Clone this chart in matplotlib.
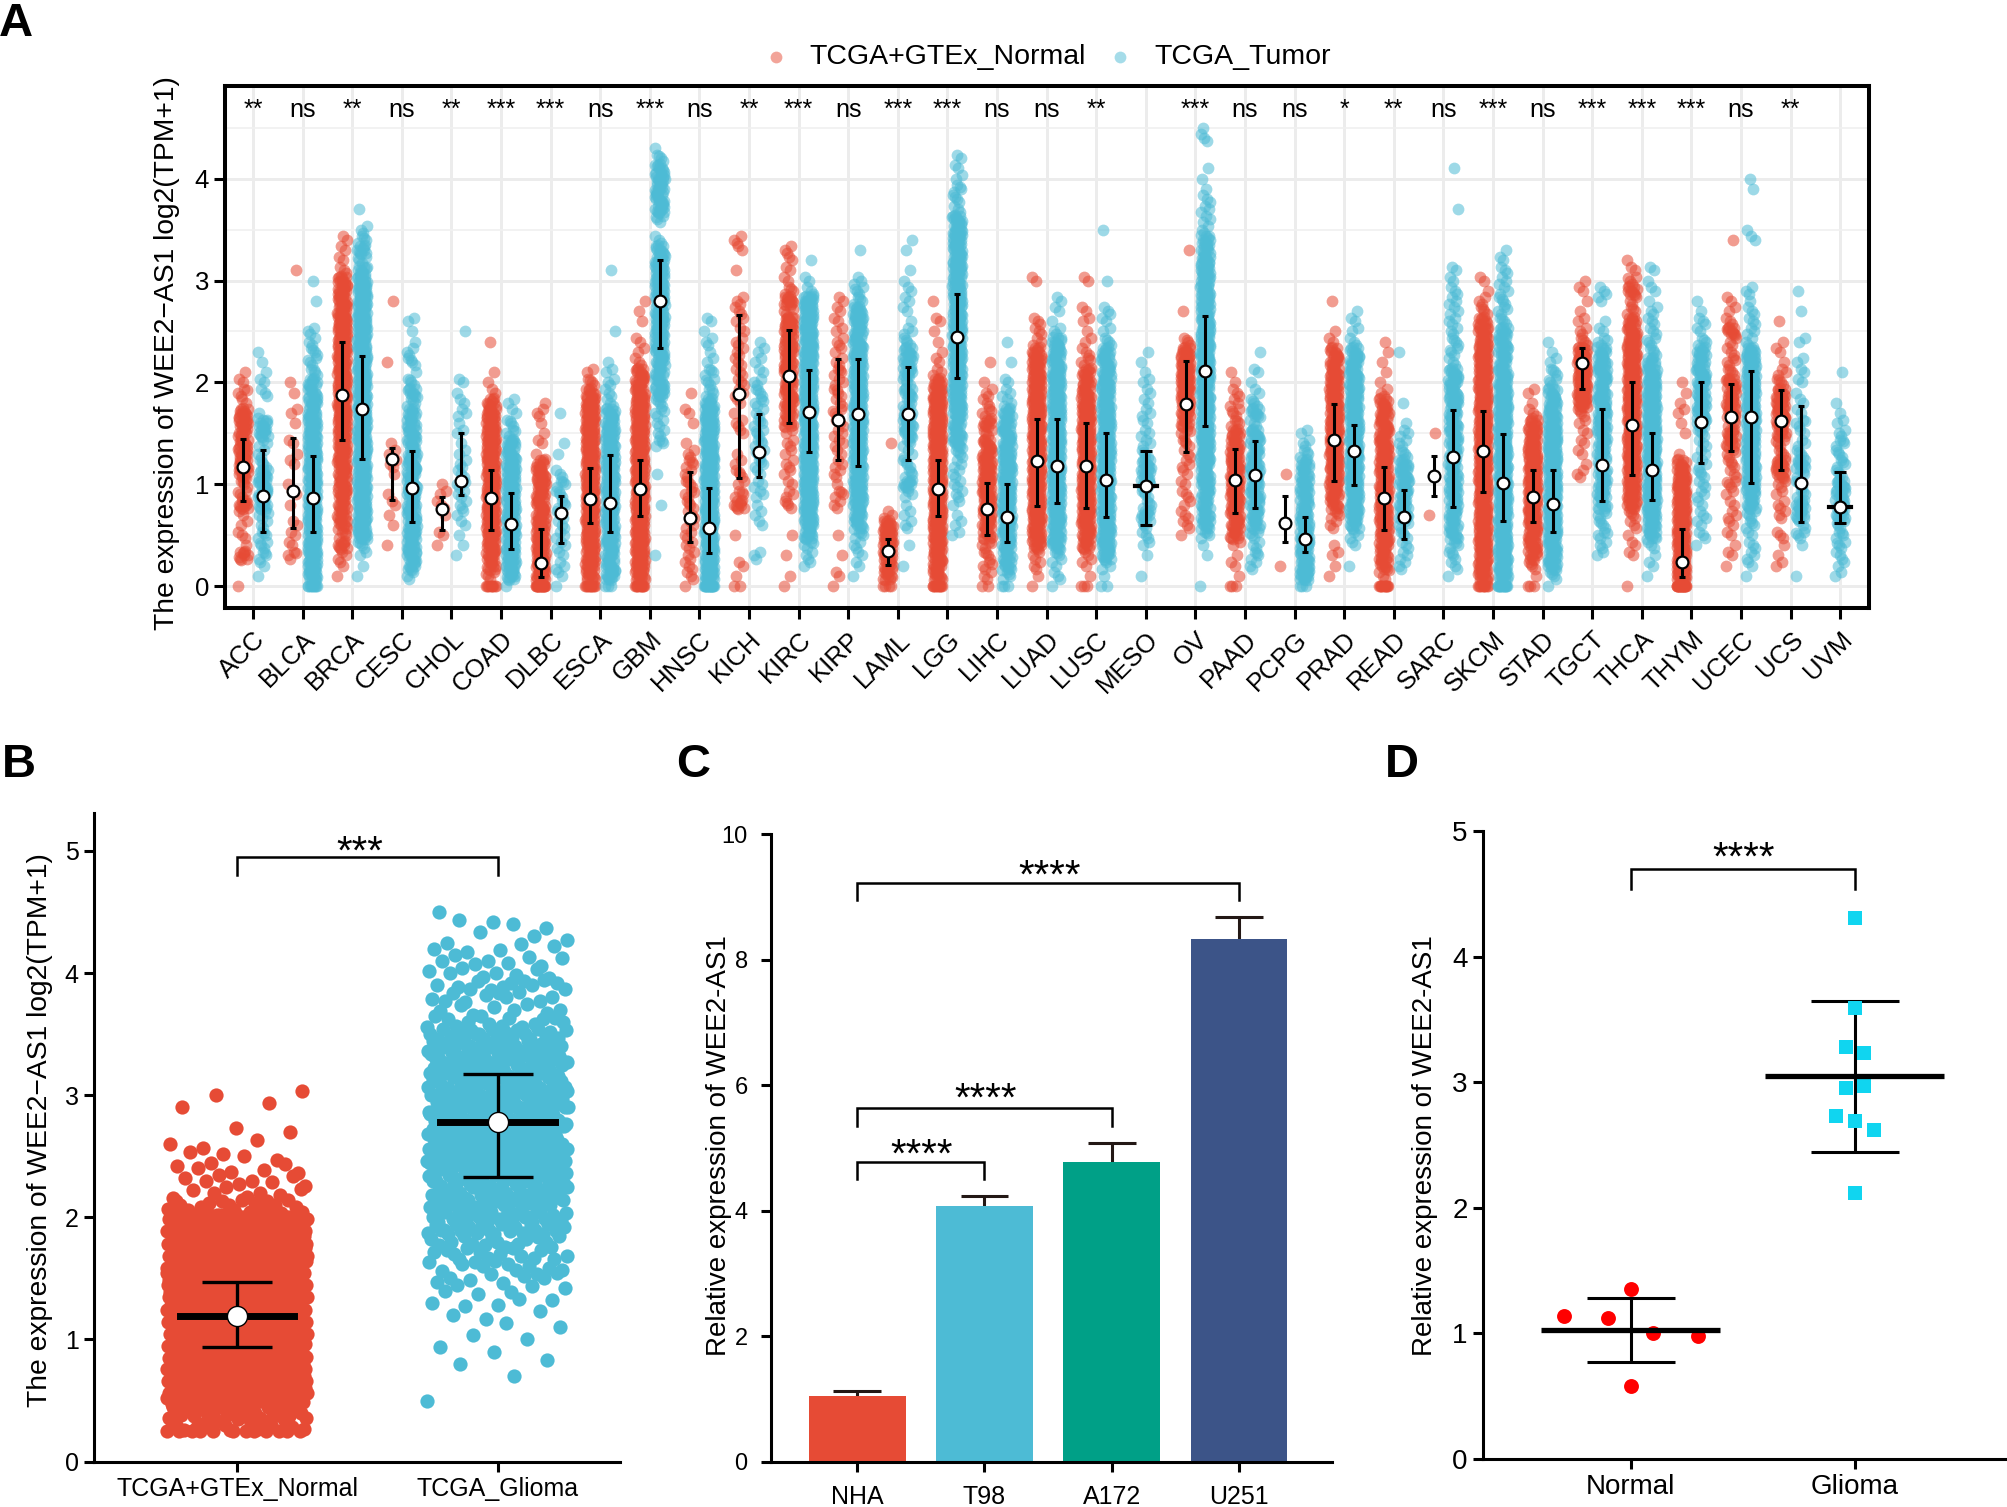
import numpy as np
import matplotlib
matplotlib.use("Agg")
import matplotlib.pyplot as plt
from matplotlib.transforms import ScaledTranslation

plt.rcParams['font.family'] = ['Liberation Sans', 'DejaVu Sans']

W, H = 2008, 1507
RED, BLUE, GREEN, NAVY = '#E64B35', '#4DBBD5', '#00A087', '#3C5488'

cancers = ['ACC', 'BLCA', 'BRCA', 'CESC', 'CHOL', 'COAD', 'DLBC', 'ESCA', 'GBM', 'HNSC', 'KICH',
           'KIRC', 'KIRP', 'LAML', 'LGG', 'LIHC', 'LUAD', 'LUSC', 'MESO', 'OV', 'PAAD', 'PCPG',
           'PRAD', 'READ', 'SARC', 'SKCM', 'STAD', 'TGCT', 'THCA', 'THYM', 'UCEC', 'UCS', 'UVM']
signif = ['**', 'ns', '**', 'ns', '**', '***', '***', 'ns', '***', 'ns', '**',
          '***', 'ns', '***', '***', 'ns', 'ns', '**', '', '***', 'ns', 'ns',
          '*', '**', 'ns', '***', 'ns', '***', '***', '***', 'ns', '**', '']

# points per 0.1 wide bin of expression, bin 0 starts at 0
ACC_n = [1,0,0,5,1,3,2,2,6,4,4,5,7,6,6,5,6,6,2,4,2,1]
ACC_t = [0,1,2,4,4,4,3,4,5,6,5,5,4,3,3,5,5,1,0,3,2,1,1,1]
BLCA_n = [0,0,0,4,2,2,2,0,1,2,1,0,2,1,2,0,1,2,0,1,1,0,0,0,0,0,0,0,0,0,0,1]
BLCA_t = [5,8,8,8,8,7,7,7,7,7,7,7,7,7,7,7,7,6,6,5,5,4,4,4,3,3,0,0,1,0,1]
BRCA_n = [0,1,2,3,5,4,5,5,5,6,6,6,7,7,7,7,8,8,8,8,8,8,8,8,8,8,8,7,7,6,6,3,2,2,2]
BRCA_t = [0,1,1,2,4,8,8,8,8,8,8,8,8,8,8,8,8,8,8,8,8,8,8,8,8,8,8,8,8,8,8,5,4,5,4,3,0,1]
CESC_n = [0,0,0,0,1,0,1,1,2,1,0,1,3,2,1,0,0,0,0,0,0,0,1,0,0,0,0,0,1]
CESC_t = [0,3,5,6,6,7,7,6,6,6,6,6,6,6,5,5,5,5,4,5,4,1,4,3,1,1,2]
CHOL_n = [0,0,0,0,1,2,0,1,3,2,1]
CHOL_t = [0,0,0,1,1,1,2,2,3,3,4,3,3,2,1,2,1,3,2,1,2,0,0,0,0,1]
COAD_n = [5,4,5,6,7,8,8,8,8,8,8,8,8,8,8,8,7,6,5,2,1,1,0,0,1]
COAD_t = [1,6,7,7,7,7,7,7,7,7,7,7,7,6,6,4,4,2,2]
DLBC_n = [10,8,8,7,7,7,7,6,6,6,6,6,5,1,2,1,1,3,1]
DLBC_t = [1,2,3,2,3,3,3,4,4,4,4,3,0,1,1,0,0,1]
ESCA_n = [6,6,7,7,8,8,8,8,8,8,8,8,8,8,8,8,8,8,8,5,4,2]
ESCA_t = [3,6,6,6,6,7,7,7,7,7,7,7,7,7,7,7,6,6,3,3,3,2,1,0,0,1,0,0,0,0,0,1]
GBM_n = [6,7,8,8,8,8,8,8,8,8,8,8,8,8,8,8,8,8,8,7,6,5,3,2,2,0,1,1,1]
GBM_t = [0,0,0,1,0,0,0,0,1,0,0,1,0,0,4,3,3,4,4,6,5,5,6,6,7,7,7,6,7,7,7,7,7,5,3,0,4,6,6,6,6,5,4,1]
HNSC_n = [1,3,3,3,3,3,3,3,4,4,4,3,4,3,1,0,1,2,0,1]
HNSC_t = [10,9,8,8,8,8,8,8,8,8,8,8,8,8,8,8,8,8,5,4,4,4,2,1,3,1,2]
KICH_n = [2,1,2,0,0,1,0,0,5,4,2,4,2,1,0,2,3,1,2,3,3,3,3,3,3,2,2,3,3,0,0,1,0,2,3]
KICH_t = [0,0,0,3,0,0,2,2,1,3,3,2,4,4,4,4,4,3,4,4,3,2,2,2,1]
KIRC_n = [1,1,0,1,0,1,0,0,4,3,2,2,3,2,3,2,5,5,6,6,6,6,6,6,6,7,7,4,6,4,2,2,2,3]
KIRC_t = [0,0,2,3,4,6,6,7,8,8,8,8,8,8,8,8,8,8,8,8,8,8,8,8,8,8,8,8,8,3,2,0,1]
KIRP_n = [1,2,0,1,0,1,0,0,3,4,1,3,3,2,3,3,4,4,3,4,3,4,3,2,3,2,2,2,2]
KIRP_t = [0,1,2,2,3,4,5,6,6,7,7,7,7,7,7,7,7,7,7,7,7,7,7,7,6,6,6,6,4,4,3,0,0,1]
LAML_n = [4,5,6,7,8,8,6,3,0,0,0,0,0,0,1]
LAML_t = [0,0,1,0,1,0,3,2,1,3,5,4,4,3,4,5,5,5,4,5,4,5,5,5,4,3,1,2,2,2,1,1,0,1,1]
LGG_n = [6,6,6,7,7,8,8,8,8,8,8,8,8,8,8,8,8,8,8,7,5,3,2,1,1,1,2,0,1]
LGG_t = [0,0,0,0,0,2,2,1,2,3,3,3,3,4,5,5,5,7,7,7,7,7,7,7,7,7,7,7,7,7,7,7,7,7,7,7,6,3,4,4,2,2,2]
LIHC_n = [2,3,4,4,4,5,6,6,7,7,7,7,7,6,5,4,5,4,3,3,1,0,1]
LIHC_t = [3,4,5,5,6,6,7,7,7,7,7,7,7,7,6,6,5,5,3,3,2,0,1,0,1]
LUAD_n = [1,1,3,3,5,7,7,8,8,8,8,8,8,8,8,8,8,8,8,7,7,7,7,5,3,3,3,0,0,0,2]
LUAD_t = [1,3,2,4,5,6,7,7,7,7,7,7,7,7,7,7,7,7,7,7,7,7,6,6,5,3,1,2,2]
LUSC_n = [3,1,2,3,5,6,7,8,8,8,8,8,8,8,8,8,8,8,7,6,5,5,4,3,2,1,2,2,0,0,2,0]
LUSC_t = [2,1,3,6,7,7,7,7,7,7,7,7,7,7,7,7,7,7,7,6,6,6,6,5,4,2,2,3,0,0,1,0,0,0,0,1]
MESO_t = [0,1,0,1,2,3,4,5,4,4,5,5,5,4,3,3,2,3,2,2,2,1,1,1]
OV_n = [0,0,0,0,0,1,3,3,2,3,2,2,3,3,4,4,5,6,7,8,8,8,8,6,4,0,0,1,0,0,0,0,0,1]
OV_t = [1,0,0,1,1,4,5,5,5,5,6,6,6,7,7,7,7,7,7,7,8,8,8,8,8,8,8,7,7,7,7,7,6,5,5,3,3,3,3,1,1,1,0,0,3,1]
PAAD_n = [3,1,2,1,2,5,6,6,7,7,7,7,7,7,5,5,4,4,3,3,1,1]
PAAD_t = [0,0,3,4,3,4,5,5,5,6,6,6,6,5,5,5,3,5,4,2,1,2,0,1]
PCPG_n = [0,0,1,0,0,0,0,0,0,0,0,1]
PCPG_t = [3,7,7,7,7,7,6,6,5,5,5,5,5,4,3,2]
PRAD_n = [0,1,1,2,1,0,3,4,5,6,7,7,8,8,8,8,8,7,7,7,7,6,6,5,2,1,0,0,1]
PRAD_t = [0,0,1,0,2,3,5,6,7,7,8,8,8,8,8,8,7,7,7,7,7,7,6,5,3,2,2,1]
READ_n = [6,3,5,6,6,7,7,7,7,7,7,7,7,7,7,6,6,6,5,3,1,1,1,1,1]
READ_t = [0,0,3,3,3,4,4,5,5,5,5,5,5,4,3,3,1,0,1,0,0,0,0,1]
SARC_n = [0,0,0,0,0,0,0,1,0,0,0,0,0,0,0,1]
SARC_t = [0,1,3,4,4,5,5,5,5,5,5,5,5,5,5,5,5,6,6,6,6,5,3,4,4,3,3,3,3,3,2,2,0,0,0,0,0,1,0,0,0,1]
SKCM_n = [5,7,8,8,8,8,8,8,8,8,8,8,8,8,8,8,8,8,8,8,8,8,8,8,7,6,5,4,3,1,2]
SKCM_t = [7,8,8,8,8,8,8,8,8,8,8,8,8,8,8,8,8,8,8,8,7,7,5,5,5,5,4,4,4,3,3,3,2,1]
STAD_n = [3,1,4,5,6,7,8,8,8,8,8,8,8,8,7,6,5,3,1,2]
STAD_t = [1,4,6,7,7,8,8,8,8,8,8,8,8,8,8,8,7,6,6,5,4,4,2,1,1]
TGCT_n = [0,0,0,0,0,0,0,0,0,0,0,3,1,2,2,2,2,4,7,8,8,8,8,7,4,3,2,1,1,2,1]
TGCT_t = [0,0,0,2,3,4,4,4,5,5,5,5,4,5,5,5,6,6,6,6,5,6,6,5,4,2,1,0,2,3]
THCA_n = [1,0,0,2,2,1,3,4,6,7,7,8,8,8,8,8,8,8,8,8,8,8,8,8,8,6,5,4,3,5,4,2,1]
THCA_t = [0,1,2,1,3,5,6,7,8,8,8,8,8,8,8,8,8,8,8,8,8,6,5,4,4,3,3,3,1,2,1,2]
THYM_n = [12,10,9,8,8,8,8,8,8,8,8,7,5,1,0,1,1,2,1,1,1]
THYM_t = [0,0,0,0,1,3,2,3,2,3,3,4,3,3,3,4,5,5,5,5,6,6,5,5,4,2,3,1,1]
UCEC_n = [0,0,1,2,1,2,2,3,2,2,4,3,4,4,5,5,4,5,6,5,6,4,4,3,3,5,3,2,2,0,0,0,0,0,1]
UCEC_t = [0,1,2,3,3,2,4,4,5,5,7,7,7,7,7,7,7,7,7,7,7,7,7,6,3,3,3,3,1,3,0,0,0,0,2,1,0,0,0,1,1]
UCS_n = [0,0,2,1,1,3,0,3,3,2,3,5,6,4,4,5,6,6,7,5,4,3,1,2,1,0,1]
UCS_t = [0,1,0,0,1,4,3,5,5,4,4,4,5,4,3,2,4,2,2,1,2,2,2,0,2,0,0,1,0,1]
UVM_t = [0,2,2,3,4,4,4,5,5,5,5,4,4,4,4,3,2,1,1,0,0,1]

normal_bins = [ACC_n, BLCA_n, BRCA_n, CESC_n, CHOL_n, COAD_n, DLBC_n, ESCA_n, GBM_n, HNSC_n, KICH_n,
               KIRC_n, KIRP_n, LAML_n, LGG_n, LIHC_n, LUAD_n, LUSC_n, None, OV_n, PAAD_n, PCPG_n,
               PRAD_n, READ_n, SARC_n, SKCM_n, STAD_n, TGCT_n, THCA_n, THYM_n, UCEC_n, UCS_n, None]
tumor_bins = [ACC_t, BLCA_t, BRCA_t, CESC_t, CHOL_t, COAD_t, DLBC_t, ESCA_t, GBM_t, HNSC_t, KICH_t,
              KIRC_t, KIRP_t, LAML_t, LGG_t, LIHC_t, LUAD_t, LUSC_t, MESO_t, OV_t, PAAD_t, PCPG_t,
              PRAD_t, READ_t, SARC_t, SKCM_t, STAD_t, TGCT_t, THCA_t, THYM_t, UCEC_t, UCS_t, UVM_t]

normal_mid = [1.17,.93,1.88,1.25,.76,.86,.23,.85,.95,.67,1.89,2.06,1.63,.34,.95,.76,1.23,1.18,None,1.79,1.04,.62,1.43,.86,1.08,1.33,.87,2.19,1.58,.24,1.66,1.62,None]
normal_lo = [.83,.57,1.43,.84,.55,.55,.09,.62,.69,.43,1.06,1.60,1.24,.21,.69,.50,.79,.77,None,1.32,.72,.43,1.03,.55,.88,.92,.63,1.93,1.09,.09,1.33,1.14,None]
normal_hi = [1.44,1.45,2.40,1.36,.87,1.14,.56,1.16,1.24,1.12,2.66,2.51,2.23,.46,1.24,1.01,1.64,1.60,None,2.21,1.35,.88,1.79,1.17,1.28,1.72,1.14,2.34,2.00,.56,1.98,1.92,None]
tumor_mid = [.88,.86,1.74,.96,1.03,.61,.72,.82,2.80,.57,1.32,1.71,1.69,1.69,2.45,.68,1.18,1.04,.98,2.11,1.09,.46,1.33,.68,1.27,1.01,.81,1.19,1.14,1.61,1.66,1.01,.78]
tumor_lo = [.53,.53,1.25,.63,.89,.36,.42,.53,2.34,.32,1.07,1.32,1.18,1.24,2.04,.43,.82,.68,.60,1.57,.77,.33,.99,.46,.78,.64,.53,.83,.84,1.21,1.01,.63,.62]
tumor_hi = [1.34,1.28,2.26,1.33,1.50,.91,.88,1.29,3.20,.96,1.69,2.12,2.23,2.15,2.87,1.00,1.64,1.50,1.33,2.65,1.42,.68,1.58,.94,1.73,1.49,1.14,1.74,1.50,2.00,2.11,1.77,1.12]

# panel B
groups_b = ['TCGA+GTEx_Normal', 'TCGA_Glioma']
normal_b = [0,0,12,16,30,45,55,55,55,55,55,55,55,55,55,55,55,55,55,55,50,16,8,8,7,4,3,2,0,2,2]
glioma_b = [0,0,0,0,0,1,0,1,2,2,2,2,3,5,6,9,11,14,15,22,24,20,24,30,34,34,36,40,40,40,40,32,30,30,26,22,14,8,10,12,8,8,6,3,4,1]
mean_b = [1.19, 2.78]
lo_b = [.94, 2.33]
hi_b = [1.47, 3.17]

# panel C
cells = ['NHA', 'T98', 'A172', 'U251']
cell_expr = [1.05, 4.08, 4.78, 8.32]
cell_top = [1.13, 4.23, 5.07, 8.67]

# panel D
groups_d = ['Normal', 'Glioma']
normal_d = [1.35, 1.14, 1.12, 1.0, .98, .58]
normal_d_dx = [0, -.3, -.1, .1, .3, 0]
glioma_d = [4.31, 3.59, 3.28, 3.23, 2.95, 2.97, 2.73, 2.69, 2.62, 2.12]
glioma_d_dx = [0, 0, -.04, .04, -.04, .04, -.085, 0, .085, 0]
mean_d = [1.03, 3.05]
lo_d = [.77, 2.445]
hi_d = [1.285, 3.65]


def spread(bins, half_width, step=0.1, dense_from=None, floor=0):
    # turns the per bin counts into points, staggered so they do not stack on one spot
    wobble = [0, .035, -.03, .02, -.015, .045, -.04]
    ys, xs = [], []
    n = 0
    for i, c in enumerate(bins):
        # solid parts of the cloud hold more points than can be counted
        if dense_from is not None and c >= dense_from:
            c = c * 2
        for k in range(c):
            y = i * step
            if i > 0:
                y += wobble[k % len(wobble)]
            ys.append(max(y, floor))
            xs.append((((n * 0.618034) % 1) * 2 - 1) * half_width)
            n += 1
    return np.array(xs), np.array(ys)


def make_axes(left, top, right, bottom):
    return fig.add_axes([left / W, 1 - bottom / H, (right - left) / W, (bottom - top) / H])


def clean_axes(ax, lw=2.2):
    ax.spines['top'].set_visible(False)
    ax.spines['right'].set_visible(False)
    ax.spines['left'].set_linewidth(lw)
    ax.spines['bottom'].set_linewidth(lw)
    ax.tick_params(width=lw, length=7.5)


def bracket(ax, x0, x1, y, drop, text, sx, sy, color='black'):
    ax.plot([x0, x0, x1, x1], [y - drop, y, y, y - drop], color=color, lw=1.8, solid_joinstyle='miter')
    # asterisks sit high in the font, so shift the baseline down to centre them on sy
    ax.annotate(text, (sx, sy), xytext=(0, -13.7), textcoords='offset points',
                ha='center', va='baseline', fontsize=29)


fig = plt.figure(figsize=(W / 100, H / 100), dpi=100)

# panel A
ax = make_axes(225, 86, 1869, 608)
ax.set_xlim(-0.565, 32.58)
ax.set_ylim(-0.216, 4.91)
ax.set_axisbelow(True)
ax.grid(True, which='major', color='#ececec', lw=2.1)
ax.set_yticks(np.arange(0.5, 5, 1), minor=True)
ax.grid(True, which='minor', axis='y', color='#f0f0f0', lw=1.2)
ax.tick_params(axis='y', which='minor', length=0)

for i, name in enumerate(cancers):
    has_normal = normal_bins[i] is not None
    tumor_x = i + 0.2 if has_normal else i
    if has_normal:
        dx, vals = spread(normal_bins[i], 0.1, dense_from=5)
        ax.scatter(i - 0.2 + dx, vals, s=72, color=RED, alpha=0.55, linewidths=0, zorder=2)
    dx, vals = spread(tumor_bins[i], 0.1, dense_from=5)
    ax.scatter(tumor_x + dx, vals, s=72, color=BLUE, alpha=0.55, linewidths=0, zorder=2)

for i, name in enumerate(cancers):
    if normal_mid[i] is not None:
        ax.errorbar(i - 0.2, normal_mid[i],
                    yerr=[[normal_mid[i] - normal_lo[i]], [normal_hi[i] - normal_mid[i]]],
                    color='black', elinewidth=2.2, capsize=2.2, capthick=2.2, zorder=3)
        ax.plot(i - 0.2, normal_mid[i], 'o', ms=8.5, mfc='white', mec='black', mew=1.6, zorder=4)
        tumor_x = i + 0.2
        cap = 2.2
    else:
        tumor_x = i
        cap = 4.5
        ax.plot([i - 0.22, i + 0.22], [tumor_mid[i], tumor_mid[i]], color='black', lw=3, zorder=3)
    ax.errorbar(tumor_x, tumor_mid[i],
                yerr=[[tumor_mid[i] - tumor_lo[i]], [tumor_hi[i] - tumor_mid[i]]],
                color='black', elinewidth=2.2, capsize=cap, capthick=2.2, zorder=3)
    ax.plot(tumor_x, tumor_mid[i], 'o', ms=8.5, mfc='white', mec='black', mew=1.6, zorder=4)
    ax.text(i, 4.61, signif[i], ha='center', va='baseline', fontsize=18)

ax.set_xticks(range(len(cancers)))
ax.set_xticklabels(cancers, rotation=45, ha='right', rotation_mode='anchor', fontsize=18.5)
shift = ScaledTranslation(3 / 100, 2 / 100, fig.dpi_scale_trans)
for lab in ax.get_xticklabels():
    lab.set_transform(lab.get_transform() + shift)
ax.set_yticks([0, 1, 2, 3, 4])
ax.tick_params(axis='both', which='major', labelsize=18.5, width=2.2, length=8)
ax.tick_params(axis='x', pad=6)
for s in ax.spines.values():
    s.set_linewidth(2.9)
ax.set_ylabel('The expression of WEE2\u2212AS1 log2(TPM+1)', fontsize=20.3)
ax.yaxis.set_label_coords(180 / W, 1 - 353 / H, transform=fig.transFigure)

h1 = ax.scatter([], [], s=72, color=RED, alpha=0.5, linewidths=0, label='TCGA+GTEx_Normal')
h2 = ax.scatter([], [], s=72, color=BLUE, alpha=0.5, linewidths=0, label='TCGA_Tumor')
fig.legend(handles=[h1, h2], ncol=2, frameon=False, fontsize=20.5, loc='center',
           bbox_to_anchor=(1039 / W, 1 - 57 / H), handletextpad=0.2, columnspacing=0.2)

# panel B
ax = make_axes(94, 813, 620, 1461.6)
ax.set_xlim(-0.549, 1.47)
ax.set_ylim(0, 5.31)
clean_axes(ax)
dx, vals = spread(normal_b, 0.27, floor=0.25)
ax.scatter(0 + dx, vals, s=105, color=RED, linewidths=0, zorder=2)
dx, vals = spread(glioma_b, 0.27)
ax.scatter(1 + dx, vals, s=105, color=BLUE, linewidths=0, zorder=2)
for i in range(2):
    ax.errorbar(i, mean_b[i], yerr=[[mean_b[i] - lo_b[i]], [hi_b[i] - mean_b[i]]], color='black',
                elinewidth=2.4, capsize=25, capthick=2.4, zorder=3)
    ax.plot([i - 0.22, i + 0.22], [mean_b[i], mean_b[i]], color='black', lw=5, zorder=3)
    ax.plot(i, mean_b[i], 'o', ms=14.5, mfc='white', mec='black', mew=1, zorder=4)
ax.set_xticks([0, 1])
ax.set_xticklabels(groups_b, fontsize=18)
ax.set_yticks(range(6))
ax.tick_params(axis='y', labelsize=18)
ax.set_ylabel('The expression of WEE2\u2212AS1 log2(TPM+1)', fontsize=20.3)
ax.yaxis.set_label_coords(53 / W, 1 - 1130 / H, transform=fig.transFigure)
bracket(ax, 0, 1, 4.95, 0.15, '***', 0.47, 5.05)

# panel C
ax = make_axes(770.6, 834, 1332, 1461.6)
ax.set_xlim(-0.68, 3.73)
ax.set_ylim(0, 10)
clean_axes(ax)
ax.bar(range(4), cell_expr, width=0.76, color=[RED, BLUE, GREEN, NAVY], zorder=2)
for i in range(4):
    ax.vlines(i, cell_expr[i], cell_top[i], color='#231815', lw=2.2, zorder=1)
    ax.hlines(cell_top[i], i - 0.187, i + 0.187, color='#231815', lw=2.2, zorder=1)
ax.set_xticks(range(4))
ax.set_xticklabels(cells, fontsize=18)
ax.set_yticks(range(0, 11, 2))
ax.tick_params(axis='y', labelsize=17, pad=9)
ax.tick_params(axis='x', pad=9)
ax.set_ylabel('Relative expression of WEE2-AS1', fontsize=20)
ax.yaxis.set_label_coords(732 / W, 1 - 1146 / H, transform=fig.transFigure)
bracket(ax, 0, 3, 9.22, 0.27, '****', 1.51, 9.45)
bracket(ax, 0, 2, 5.64, 0.29, '****', 1.01, 5.90)
bracket(ax, 0, 1, 4.78, 0.28, '****', 0.51, 5.01)

# panel D
ax = make_axes(1483, 831, 2007, 1459)
ax.set_xlim(-0.66, 1.68)
ax.set_ylim(0, 5)
clean_axes(ax)
ax.scatter(normal_d_dx, normal_d, s=115, color='#FF0000', linewidths=0, zorder=2)
ax.scatter(1 + np.array(glioma_d_dx), glioma_d, s=115, marker='s', color='#10D5F0', linewidths=0, zorder=2)
for i in range(2):
    ax.errorbar(i, mean_d[i], yerr=[[mean_d[i] - lo_d[i]], [hi_d[i] - mean_d[i]]], color='black',
                elinewidth=2.2, capsize=32, capthick=2.2, zorder=1)
    ax.plot([i - 0.4, i + 0.4], [mean_d[i], mean_d[i]], color='black', lw=3.8, zorder=3, solid_capstyle='butt')
ax.set_xticks([0, 1])
ax.set_xticklabels(groups_d, fontsize=20)
ax.set_yticks(range(6))
ax.tick_params(axis='y', labelsize=20)
ax.set_ylabel('Relative expression of WEE2-AS1', fontsize=20)
ax.yaxis.set_label_coords(1438 / W, 1 - 1146 / H, transform=fig.transFigure)
bracket(ax, 0, 1, 4.70, 0.16, '****', 0.506, 4.84)

# panel letters
for letter, x, y in [('A', -1, 36), ('B', 2, 777), ('C', 676, 777), ('D', 1385, 777)]:
    fig.text(x / W, 1 - y / H, letter, fontsize=34, fontweight='bold', ha='left', va='baseline')

fig.savefig('out.png', dpi=100)
